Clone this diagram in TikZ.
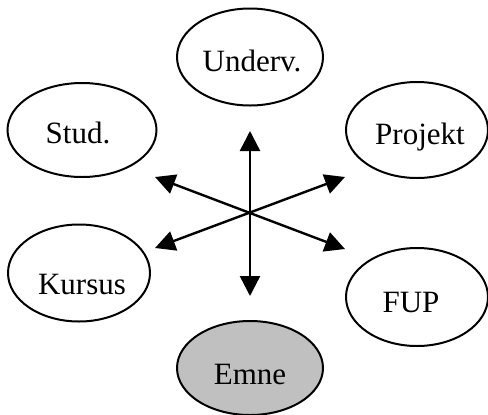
\documentclass[tikz,border=0pt]{standalone}
\usepackage{fontspec}
\setmainfont{Liberation Serif}
\usetikzlibrary{shapes.geometric,arrows.meta}
\definecolor{emnegray}{RGB}{192,192,192}
\tikzset{
  oval/.style={draw=black, line width=1pt, ellipse, inner sep=0pt},
  txt/.style={inner sep=0pt, font=\fontsize{15.5pt}{18pt}\selectfont},
  twohead/.style={line width=1.2pt, {Triangle[length=10pt,width=10pt]}-{Triangle[length=10pt,width=10pt]}}
}
\begin{document}
\begin{tikzpicture}[x=0.5pt,y=-0.5pt]
\useasboundingbox[fill=white] (0,0) rectangle (488,414);
% ellipses
\node[oval, minimum width=73pt, minimum height=48.5pt] (underv) at (250,57) {};
\node[oval, minimum width=74.5pt, minimum height=47pt] (stud) at (82,130) {};
\node[oval, minimum width=71pt, minimum height=48pt] (projekt) at (417,130) {};
\node[oval, minimum width=71pt, minimum height=48.5pt] (kursus) at (79,273) {};
\node[oval, minimum width=71pt, minimum height=49pt] (fup) at (417,297) {};
\node[oval, fill=emnegray, minimum width=73pt, minimum height=47pt] (emne) at (250,368) {};
% texts
\node[txt] (undervt) at (252,61) {Underv.};
\node[txt] (studt) at (78,133) {Stud.};
\node[txt] (projektt) at (420,137) {Projekt};
\node[txt] (kursust) at (82,284) {Kursus};
\node[txt] (fupt) at (411,302) {FUP};
\node[txt] (emnet) at (250,374) {Emne};
% arrow tips
\coordinate (top) at (250,131);
\coordinate (bot) at (250,296);
\coordinate (ul) at (155,177);
\coordinate (lr) at (345,249);
\coordinate (ur) at (345,177);
\coordinate (ll) at (155,248);
\draw[twohead] (top) -- (bot);
\draw[twohead] (ul) -- (lr);
\draw[twohead] (ur) -- (ll);
\end{tikzpicture}
\end{document}
